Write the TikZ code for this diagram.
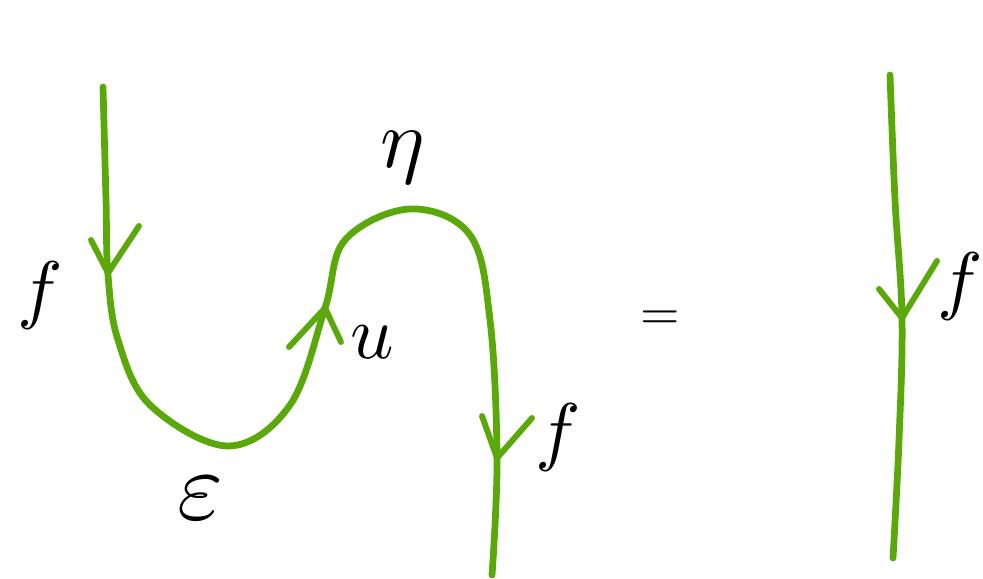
\documentclass[tikz,border=0pt]{standalone}
\usepackage{amsmath}
\definecolor{strand}{HTML}{5AA80A}
\tikzset{
  wire/.style={draw=strand, line width=4.8pt, line cap=round, line join=round},
  tick/.style={draw=strand, line width=4.2pt, line cap=round, line join=round},
  lab/.style={scale=5.4, inner sep=0pt},
}
\begin{document}
\begin{tikzpicture}[x=0.025cm,y=-0.025cm]
\useasboundingbox (0,0) rectangle (983,578);
% left zig-zag strand
\draw[wire] plot[smooth, tension=0.6] coordinates {(103,87) (106,200) (108,275) (118,340) (150,405) (228,446) (290,405) (325,308) (345,240) (410,209) (470,235) (490,320) (497,458) (492,575)};
% right strand
\draw[wire] plot[smooth, tension=0.6] coordinates {(890,75) (895,200) (902,318) (899,440) (893,558)};
% arrow tips
\coordinate (t1) at (108,273);
\coordinate (t2) at (325,308);
\coordinate (t3) at (497,458);
\coordinate (t4) at (902,318);
\draw[tick] (91,240) -- (t1) -- (139,226);
\draw[tick] (289,347) -- (t2) -- (341,342);
\draw[tick] (482,416) -- (t3) -- (532,418);
\draw[tick] (879,289) -- (t4) -- (937,261);
% labels
\node[lab] (f1) at (40,296) {$f$};
\node[scale=7, inner sep=0pt] (eps) at (200,498) {$\varepsilon$};
\node[lab, scale=1.1] (eta) at (403,158) {$\eta$};
\node[lab] (u) at (372,342) {$u$};
\node[lab] (f2) at (558,438) {$f$};
\node[scale=3.6, inner sep=0pt] (eq) at (660,320) {$=$};
\node[lab] (f3) at (960,287) {$f$};
\end{tikzpicture}
\end{document}
